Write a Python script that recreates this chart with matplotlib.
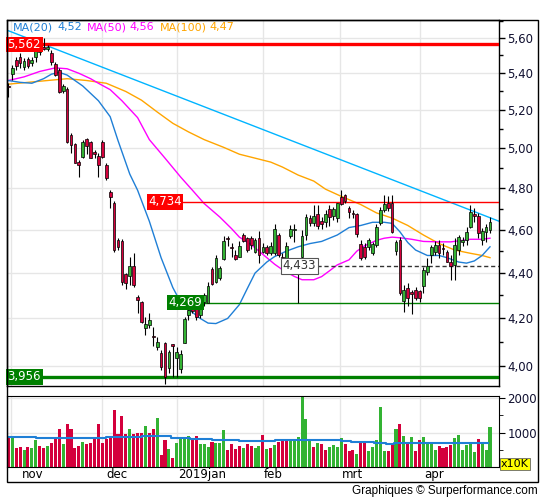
import numpy as np
import matplotlib
matplotlib.use("Agg")
import matplotlib.pyplot as plt
from matplotlib.patches import Rectangle
from matplotlib.ticker import FixedLocator, FuncFormatter, NullFormatter
from matplotlib.transforms import blended_transform_factory

# ---- daily candles (oct 2018 - apr 2019)
opens = [5.332, 5.396, 5.474, 5.492, 5.437, 5.478, 5.455, 5.493, 5.520, 5.549,
         5.534, 5.511, 5.451, 5.418, 5.303, 5.313, 5.069, 5.022, 4.932, 4.958,
         5.048, 5.032, 4.981, 4.962, 5.032, 4.916, 4.783, 4.728, 4.552, 4.549,
         4.396, 4.385, 4.434, 4.294, 4.270, 4.157, 4.172, 4.124, 4.079, 4.053,
         4.094, 3.991, 4.090, 4.033, 3.987, 4.097, 4.215, 4.263, 4.252, 4.215,
         4.271, 4.268, 4.417, 4.359, 4.380, 4.464, 4.563, 4.521, 4.480, 4.475,
         4.575, 4.559, 4.559, 4.498, 4.563, 4.496, 4.517, 4.492, 4.492, 4.573,
         4.475, 4.460, 4.569, 4.600, 4.415, 4.475, 4.575, 4.655, 4.632, 4.675,
         4.641, 4.637, 4.699, 4.664, 4.654, 4.759, 4.765, 4.702, 4.681, 4.674,
         4.532, 4.521, 4.517, 4.492, 4.529, 4.632, 4.694, 4.727, 4.727, 4.501,
         4.552, 4.276, 4.332, 4.316, 4.325, 4.318, 4.340, 4.404, 4.483, 4.498,
         4.529, 4.515, 4.498, 4.449, 4.437, 4.506, 4.540, 4.552, 4.613, 4.674,
         4.663, 4.552, 4.590, 4.599]
highs = [5.346, 5.446, 5.491, 5.513, 5.485, 5.492, 5.491, 5.547, 5.562, 5.597,
         5.556, 5.530, 5.463, 5.429, 5.341, 5.324, 5.079, 5.028, 4.941, 5.043,
         5.053, 5.038, 4.991, 4.976, 5.043, 4.927, 4.791, 4.738, 4.561, 4.556,
         4.402, 4.473, 4.492, 4.302, 4.276, 4.207, 4.222, 4.165, 4.122, 4.067,
         4.101, 4.067, 4.090, 4.080, 4.067, 4.207, 4.251, 4.280, 4.259, 4.280,
         4.311, 4.360, 4.429, 4.483, 4.432, 4.571, 4.571, 4.537, 4.506, 4.547,
         4.583, 4.567, 4.570, 4.560, 4.594, 4.537, 4.529, 4.540, 4.626, 4.583,
         4.491, 4.544, 4.623, 4.627, 4.440, 4.599, 4.675, 4.670, 4.719, 4.719,
         4.660, 4.694, 4.719, 4.709, 4.727, 4.791, 4.769, 4.713, 4.694, 4.678,
         4.552, 4.537, 4.560, 4.544, 4.629, 4.710, 4.768, 4.760, 4.768, 4.552,
         4.567, 4.347, 4.355, 4.325, 4.339, 4.325, 4.429, 4.470, 4.529, 4.547,
         4.552, 4.537, 4.506, 4.483, 4.560, 4.575, 4.565, 4.613, 4.719, 4.702,
         4.678, 4.607, 4.627, 4.660]
lows = [5.270, 5.362, 5.418, 5.429, 5.418, 5.428, 5.440, 5.463, 5.502, 5.530,
        5.525, 5.446, 5.384, 5.292, 5.292, 5.029, 4.976, 4.926, 4.857, 4.951,
        4.971, 4.951, 4.951, 4.857, 4.951, 4.841, 4.703, 4.497, 4.506, 4.347,
        4.328, 4.347, 4.339, 4.224, 4.179, 4.130, 4.158, 4.081, 4.067, 3.984,
        3.927, 3.972, 3.957, 3.957, 3.972, 4.094, 4.193, 4.224, 4.193, 4.202,
        4.254, 4.265, 4.347, 4.355, 4.369, 4.460, 4.526, 4.475, 4.460, 4.472,
        4.544, 4.498, 4.510, 4.490, 4.445, 4.492, 4.483, 4.483, 4.483, 4.475,
        4.407, 4.445, 4.561, 4.544, 4.269, 4.469, 4.552, 4.618, 4.618, 4.604,
        4.604, 4.613, 4.618, 4.646, 4.638, 4.718, 4.728, 4.654, 4.654, 4.568,
        4.460, 4.464, 4.506, 4.483, 4.521, 4.623, 4.686, 4.690, 4.583, 4.483,
        4.302, 4.229, 4.254, 4.219, 4.280, 4.273, 4.311, 4.390, 4.445, 4.483,
        4.468, 4.483, 4.449, 4.369, 4.369, 4.483, 4.525, 4.529, 4.607, 4.638,
        4.560, 4.529, 4.544, 4.583]
closes = [5.327, 5.428, 5.440, 5.455, 5.468, 5.442, 5.474, 5.530, 5.554, 5.536,
          5.545, 5.464, 5.390, 5.299, 5.330, 5.034, 5.017, 4.927, 4.916, 5.034,
          5.014, 4.953, 4.969, 4.916, 4.957, 4.849, 4.759, 4.506, 4.519, 4.361,
          4.357, 4.434, 4.347, 4.280, 4.186, 4.176, 4.193, 4.120, 4.100, 3.998,
          3.957, 4.060, 4.083, 4.060, 4.050, 4.196, 4.237, 4.233, 4.208, 4.271,
          4.302, 4.343, 4.350, 4.468, 4.422, 4.547, 4.555, 4.514, 4.464, 4.526,
          4.547, 4.506, 4.528, 4.552, 4.483, 4.517, 4.492, 4.526, 4.604, 4.483,
          4.417, 4.524, 4.604, 4.604, 4.433, 4.571, 4.660, 4.632, 4.665, 4.618,
          4.627, 4.675, 4.660, 4.699, 4.727, 4.721, 4.735, 4.683, 4.676, 4.579,
          4.468, 4.475, 4.552, 4.532, 4.613, 4.694, 4.722, 4.703, 4.591, 4.544,
          4.311, 4.325, 4.288, 4.307, 4.289, 4.290, 4.414, 4.432, 4.517, 4.529,
          4.491, 4.511, 4.452, 4.432, 4.529, 4.565, 4.552, 4.591, 4.686, 4.663,
          4.585, 4.594, 4.613, 4.637]

# volume in x10K, and the colour of each bar (R = down, G = up)
volumes = [870, 870, 550, 570, 490, 570, 540, 770, 620, 540,
           600, 690, 840, 1090, 660, 1260, 1110, 540, 600, 740,
           660, 710, 810, 1260, 700, 810, 900, 1660, 970, 1470,
           970, 1090, 970, 1000, 980, 1200, 980, 1110, 1430, 340,
           770, 510, 260, 710, 840, 840, 910, 840, 890, 660,
           660, 570, 720, 700, 710, 1060, 490, 660, 510, 600,
           540, 660, 600, 540, 600, 940, 510, 540, 630, 740,
           770, 800, 770, 770, 860, 2150, 1400, 770, 570, 690,
           660, 490, 570, 630, 570, 830, 660, 460, 490, 370,
           740, 740, 460, 570, 770, 1740, 460, 460, 710, 1090,
           1260, 890, 660, 860, 460, 770, 860, 660, 660, 490,
           600, 540, 570, 630, 830, 940, 490, 630, 710, 430,
           800, 710, 490, 1170]
vol_dir = ("RGRRGRGGRR" "GRRRGRRRRG" "RRRRRRRRRR" "RGRRRGRRGR"
           "RGRGGGGRRG" "GGRGGGRRRR" "GRRGGRGRGR" "RRGGGGGGRG"
           "RRGGGGRRRG" "RRGGGGGRRG" "RGRGRRGGGG" "RRRRGGGGGG" "RGGG")

# moving averages read at sample days
ma20_idx = [0, 3, 6, 9, 11, 13, 15, 19, 23, 26, 28, 31, 33, 36, 39, 42, 44, 46,
            49, 51, 53, 56, 59, 61, 63, 66, 68, 71, 74, 77, 80, 84, 87, 90, 93,
            96, 98, 100, 102, 104, 107, 110, 112, 115, 117, 119, 121, 123]
ma20_val = [5.36, 5.35, 5.345, 5.37, 5.395, 5.405, 5.39, 5.33, 5.25, 5.165,
            5.04, 4.87, 4.79, 4.64, 4.47, 4.335, 4.27, 4.24, 4.20, 4.18, 4.178,
            4.20, 4.26, 4.33, 4.40, 4.45, 4.475, 4.50, 4.52, 4.535, 4.545,
            4.575, 4.61, 4.62, 4.635, 4.635, 4.63, 4.59, 4.54, 4.505, 4.48,
            4.48, 4.47, 4.45, 4.445, 4.455, 4.48, 4.52]
ma50_idx = [0, 4, 8, 12, 15, 18, 21, 23, 26, 29, 33, 36, 40, 44, 47, 50, 54, 57,
            59, 62, 64, 66, 68, 70, 73, 75, 78, 80, 82, 84, 87, 89, 91, 94, 96,
            98, 100, 103, 106, 110, 113, 116, 118, 121, 123]
ma50_val = [5.36, 5.38, 5.41, 5.43, 5.425, 5.40, 5.37, 5.345, 5.31, 5.25, 5.16,
            5.045, 4.95, 4.855, 4.79, 4.725, 4.66, 4.605, 4.565, 4.53, 4.50,
            4.47, 4.44, 4.415, 4.385, 4.37, 4.37, 4.384, 4.41, 4.437, 4.46,
            4.50, 4.525, 4.55, 4.56, 4.565, 4.562, 4.555, 4.545, 4.543, 4.543,
            4.55, 4.555, 4.555, 4.56]
ma100_idx = [0, 6, 10, 15, 20, 25, 30, 34, 38, 42, 46, 50, 55, 59, 63, 67, 70,
             74, 78, 81, 85, 90, 94, 98, 102, 106, 110, 114, 118, 121, 123]
ma100_val = [5.34, 5.352, 5.36, 5.37, 5.36, 5.345, 5.30, 5.253, 5.19, 5.13,
             5.085, 5.045, 5.005, 4.97, 4.95, 4.93, 4.905, 4.865, 4.835, 4.795,
             4.76, 4.72, 4.68, 4.655, 4.62, 4.575, 4.535, 4.505, 4.49, 4.48, 4.47]

# volume average (stepped)
vma_idx = [-0.5, 7, 25, 34, 41.5, 46.5, 52, 59, 68, 85, 87.5, 93.5, 96.5, 98.5, 122.5]
vma_val = [876, 838, 876, 886, 848, 819, 790, 762, 790, 762, 733, 705, 676, 705, 705]

# falling trend line (two anchor points)
trend_idx = [-0.5, 125.6]
trend_val = [5.645, 4.638]

# horizontal levels
lvl_high, lvl_low = 5.562, 3.956
lvl_res, lvl_sup, lvl_mid = 4.734, 4.269, 4.433

month_starts = [0.7, 24, 43, 65, 84.8, 105.2]
month_labels = ["nov", "dec", "2019jan", "feb", "mrt", "apr"]
month_label_pos = [3.5, 25, 43.3, 65.2, 85.2, 106.2]

price_ticks = [4.0, 4.2, 4.4, 4.6, 4.8, 5.0, 5.2, 5.4, 5.6]
price_minor = [3.9, 4.1, 4.3, 4.5, 4.7, 4.9, 5.1, 5.3, 5.5, 5.7]

RED = "#d4003c"
GREEN = "#33b333"
GRID = "#e6e6e6"

W, H = 545, 500
def fx(px):
    return px / W
def fy(py):
    return 1 - py / H

fig = plt.figure(figsize=(W / 100, H / 100), dpi=100)
ax = fig.add_axes([fx(7), fy(386), fx(499) - fx(7), fy(20) - fy(386)])
axv = fig.add_axes([fx(7), fy(467), fx(499) - fx(7), fy(395.5) - fy(467)])

n = len(closes)
x = np.arange(n)
o = np.array(opens); c = np.array(closes)
hi = np.array(highs); lo = np.array(lows)

# ---- price panel
ax.set_yscale("log")
ax.set_xlim(-0.35, 125.3)
ax.set_ylim(3.919, 5.703)

for m in month_starts:
    ax.axvline(m, color=GRID, lw=1, zorder=0)
    axv.axvline(m, color=GRID, lw=1, zorder=0)
for t in price_ticks:
    ax.axhline(t, color=GRID, lw=1, zorder=0)

ax.plot(trend_idx, trend_val, color="#00b4ff", lw=1, zorder=2)
ax.plot(ma100_idx, ma100_val, color="#ffa500", lw=1, zorder=2)
ax.plot(ma50_idx, ma50_val, color="#ff00ff", lw=1, zorder=2)
ax.plot(ma20_idx, ma20_val, color="#1f7fd6", lw=1, zorder=2)

ax.axhline(lvl_high, color="red", lw=2.4, zorder=3)
ax.axhline(lvl_low, color="#008000", lw=2.4, zorder=3)
ax.plot([44.6, 125.3], [lvl_res, lvl_res], color="red", lw=1, zorder=3)
ax.plot([49.8, 125.3], [lvl_sup, lvl_sup], color="#008000", lw=1, zorder=3)
ax.plot([78.8, 125.3], [lvl_mid, lvl_mid], color="#333333", lw=1, ls=(0, (3, 2)), zorder=3)

up = c >= o
ax.vlines(x, lo, hi, color="black", lw=0.8, zorder=4)
bot = np.minimum(o, c)
hgt = np.maximum(np.abs(c - o), 0.004)
ax.bar(x, hgt, bottom=bot, width=0.7, color=np.where(up, GREEN, RED),
       edgecolor="black", linewidth=0.5, zorder=5)

def fmt(v):
    return ("%.3f" % v).replace(".", ",")

lab = dict(fontsize=8.5, va="center", zorder=6)
ax.text(-0.2, lvl_high, fmt(lvl_high), ha="left", color="white",
        bbox=dict(boxstyle="square,pad=0.12", fc="red", ec="none"), **lab)
ax.text(-0.2, lvl_low, fmt(lvl_low), ha="left", color="white",
        bbox=dict(boxstyle="square,pad=0.12", fc="#008000", ec="none"), **lab)
ax.text(44.3, lvl_res, fmt(lvl_res), ha="right", color="white",
        bbox=dict(boxstyle="square,pad=0.12", fc="red", ec="none"), **lab)
ax.text(49.5, lvl_sup, fmt(lvl_sup), ha="right", color="white",
        bbox=dict(boxstyle="square,pad=0.12", fc="#008000", ec="none"), **lab)
ax.text(78.6, lvl_mid, fmt(lvl_mid), ha="right", color="#333333",
        bbox=dict(boxstyle="square,pad=0.12", fc="white", ec="#555555", lw=0.8), **lab)

ax.yaxis.tick_right()
ax.yaxis.set_major_locator(FixedLocator(price_ticks))
ax.yaxis.set_minor_locator(FixedLocator(price_minor))
ax.yaxis.set_major_formatter(FuncFormatter(lambda v, p: ("%.2f" % v).replace(".", ",")))
ax.yaxis.set_minor_formatter(NullFormatter())
ax.tick_params(axis="y", which="major", length=4, width=1, labelsize=8.5,
               labelcolor="#101030", pad=2)
ax.tick_params(axis="y", which="minor", length=3, width=1)
ax.set_xticks([])
for s in ax.spines.values():
    s.set_linewidth(1)

# ---- volume panel
axv.set_xlim(-0.35, 125.3)
axv.set_ylim(0, 2075)
axv.axhline(1000, color=GRID, lw=1, zorder=0)
axv.axhline(2000, color=GRID, lw=1, zorder=0)
vcol = [GREEN if d == "G" else RED for d in vol_dir]
axv.bar(x, volumes, width=0.78, color=vcol, zorder=2)
axv.step(vma_idx, vma_val, where="post", color="#1f7fd6", lw=1.5, zorder=3)
axv.yaxis.tick_right()
axv.set_yticks([1000, 2000])
axv.set_yticks([500, 1500], minor=True)
axv.tick_params(axis="y", which="major", length=4, labelsize=8.5, labelcolor="#101030", pad=2)
axv.tick_params(axis="y", which="minor", length=3)
axv.set_xticks([])
tr = blended_transform_factory(axv.transData, axv.transAxes)
for pos, name in zip(month_label_pos, month_labels):
    axv.text(pos, -0.1, name, transform=tr, ha="left", va="center", fontsize=8.5)
fig.text(fx(501), fy(464), "x10K", fontsize=8, va="center", ha="left",
         bbox=dict(boxstyle="square,pad=0.1", fc="yellow", ec="#666666", lw=0.6))

# ---- legend line and frame
leg = [("MA(20)", 13, "#1f7fd6"), ("4,52", 57, "#1f7fd6"),
       ("MA(50)", 87, "#ff00ff"), ("4,56", 129, "#ff00ff"),
       ("MA(100)", 160, "#ffa500"), ("4,47", 209, "#ffa500")]
for txt, px, col in leg:
    fig.text(fx(px), fy(27), txt, color=col, fontsize=8, va="center")

fig.add_artist(Rectangle((fx(7), fy(482)), fx(538) - fx(7), fy(20) - fy(482),
                         transform=fig.transFigure, fill=False, ec="black", lw=1))
fig.text(fx(538), fy(491), "Graphiques \u00a9 Surperformance.com", ha="right",
         va="center", fontsize=8.5, family="Liberation Sans")

fig.savefig("out.png", dpi=100)
